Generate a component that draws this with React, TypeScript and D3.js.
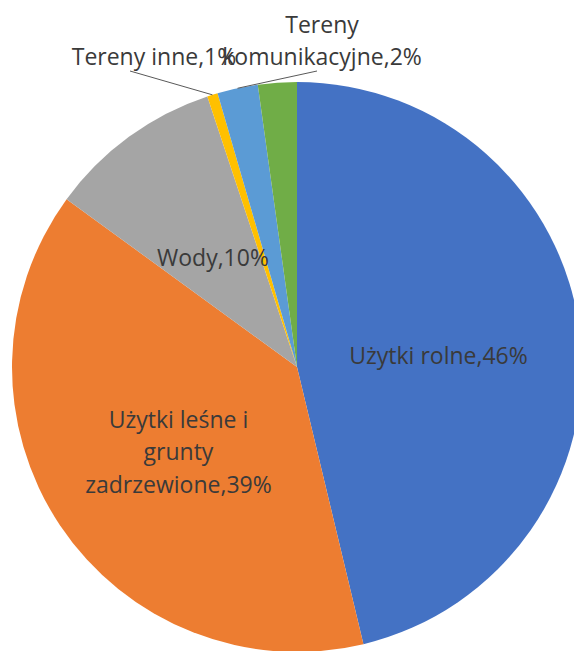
import React from "react";
import * as d3 from "d3";

const categories = [
  "Użytki rolne",
  "Użytki leśne i grunty zadrzewione",
  "Wody",
  "Tereny inne",
  "Tereny komunikacyjne",
  "Tereny zabudowane",
];
const values = [46.3, 38.8, 9.9, 0.6, 2.3, 2.2];
const labelLines = [
  ["Użytki rolne,46%"],
  ["Użytki leśne i", "grunty", "zadrzewione,39%"],
  ["Wody,10%"],
  ["Tereny inne,1%"],
  ["Tereny", "komunikacyjne,2%"],
  [],
];
const colors = ["#4472C4", "#ED7D31", "#A5A5A5", "#FFC000", "#5B9BD5", "#70AD47"];

// layout: outside label placement (relative to pie centre, last-line baseline) and leader start
const outside: Record<number, { tx: number; ty: number; lx: number; ly: number }> = {
  3: { tx: -143, ty: -302, lx: -167, ly: -296 },
  4: { tx: 25, ty: -302, lx: 20, ly: -296 },
};

const W = 574;
const H = 651;
const CX = 297;
const CY = 367;
const R = 285;
const LH = 32.5;
const FONT = "'Open Sans', sans-serif";
const FS = 23;
const TEXT = "#3a3a3a";

export default function App() {
  const pie = d3.pie<number>().sort(null).value((d) => d);
  const arcs = pie(values);
  const arc = d3.arc<d3.PieArcDatum<number>>().innerRadius(0).outerRadius(R);
  const outerArc = d3.arc<d3.PieArcDatum<number>>().innerRadius(R).outerRadius(R);

  return (
    <svg
      width={W}
      height={H}
      style={{ position: "absolute", left: 0, top: 0, background: "#fff" }}
    >
      <g transform={`translate(${CX},${CY})`}>
        {arcs.map((a, i) => (
          <path key={categories[i]} d={arc(a) || ""} fill={colors[i]} />
        ))}
        {arcs.map((a, i) => {
          const lines = labelLines[i];
          if (!lines.length) return null;
          const o = outside[i];
          if (o) {
            const [ex, ey] = outerArc.centroid(a);
            return (
              <g key={"l" + i}>
                <line x1={o.lx} y1={o.ly} x2={ex} y2={ey} stroke="#595959" strokeWidth={1} />
                {lines.map((t, j) => (
                  <text
                    key={j}
                    x={o.tx}
                    y={o.ty - (lines.length - 1 - j) * LH}
                    textAnchor="middle"
                    fontFamily={FONT}
                    fontSize={FS}
                    fill={TEXT}
                  >
                    {t}
                  </text>
                ))}
              </g>
            );
          }
          const [cx, cy] = arc.centroid(a);
          return (
            <g key={"l" + i}>
              {lines.map((t, j) => (
                <text
                  key={j}
                  x={cx}
                  y={cy + 14 + (j - (lines.length - 1) / 2) * LH}
                  textAnchor="middle"
                  fontFamily={FONT}
                  fontSize={FS}
                  fill={TEXT}
                >
                  {t}
                </text>
              ))}
            </g>
          );
        })}
      </g>
    </svg>
  );
}
